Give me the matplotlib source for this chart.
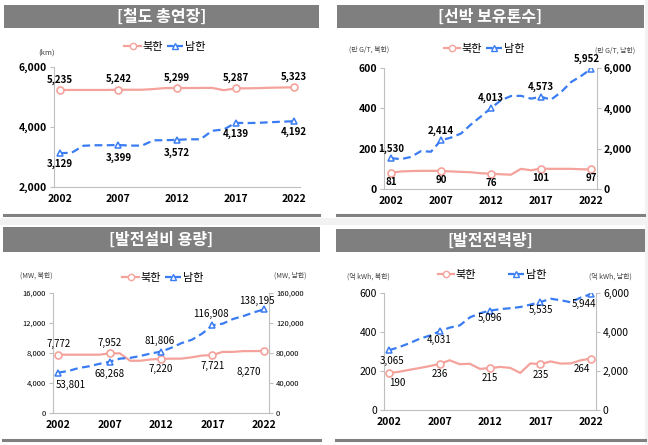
import matplotlib
matplotlib.use("Agg")
import matplotlib.pyplot as plt
from matplotlib.patches import Rectangle
from matplotlib.lines import Line2D

plt.rcParams['font.family'] = ['Noto Sans CJK KR', 'DejaVu Sans']

years = list(range(2002, 2023))
label_years = [2002, 2007, 2012, 2017, 2022]

# 철도 총연장 (km)
rail_nk = [5235, 5235, 5235, 5235, 5235, 5242, 5242, 5242, 5265, 5298, 5299,
           5299, 5302, 5304, 5226, 5287, 5289, 5296, 5310, 5316, 5323]
rail_sk = [3129, 3140, 3374, 3392, 3392, 3399, 3381, 3378, 3557, 3559, 3572,
           3590, 3590, 3874, 3918, 4139, 4131, 4140, 4160, 4178, 4192]

# 선박 보유톤수 (만 G/T)
ship_nk = [81, 87, 89, 90, 90, 90, 87, 85, 83, 78, 76,
           73, 71, 100, 93, 101, 100, 100, 100, 98, 97]
ship_sk = [1530, 1480, 1590, 1880, 1850, 2414, 2550, 2750, 3200, 3600, 4013,
           4400, 4610, 4620, 4480, 4573, 4430, 4800, 5300, 5600, 5952]

# 발전설비 용량 (MW)
cap_nk = [7772, 7772, 7770, 7770, 7770, 7952, 7955, 6964, 6968, 7143, 7220,
          7243, 7253, 7427, 7661, 7721, 8150, 8150, 8250, 8255, 8270]
cap_sk = [53801, 56053, 59961, 62258, 65514, 68268, 72491, 73470, 76078, 79342, 81806,
          86969, 93216, 97649, 105866, 116908, 119092, 125338, 129191, 134020, 138195]

# 발전전력량 (억 kWh)
gen_nk = [190, 196, 206, 215, 225, 236, 255, 235, 237, 211, 215,
          221, 216, 190, 239, 235, 249, 238, 239, 255, 264]
gen_sk = [3065, 3224, 3421, 3646, 3812, 4031, 4224, 4336, 4747, 4962, 5096,
          5171, 5220, 5281, 5404, 5535, 5706, 5630, 5525, 5769, 5944]

RED = '#F4A29B'
BLUE = '#3A7CF2'
GRAY = '#BFBFBF'
W, H = 648, 445

fig = plt.figure(figsize=(6.48, 4.45), dpi=100)
fig.patch.set_facecolor('white')


def px_axes(x0, y0, x1, y1):
    return fig.add_axes([x0 / W, 1 - y1 / H, (x1 - x0) / W, (y1 - y0) / H])


# light gray gap between rows
fig.patches.append(Rectangle((0, 1 - 225 / H), 1, 7 / H, transform=fig.transFigure,
                             facecolor='#F2F2F2', edgecolor='none', zorder=0))
fig.patches.append(Rectangle((1 - 3 / W, 0), 3 / W, 1, transform=fig.transFigure,
                             facecolor='#F2F2F2', edgecolor='none', zorder=0))


def banner(x0, x1, y0, y1, text, line_y):
    fig.patches.append(Rectangle((x0 / W, 1 - y1 / H), (x1 - x0) / W, (y1 - y0) / H,
                                 transform=fig.transFigure, facecolor='#7F7F7F',
                                 edgecolor='none', zorder=1))
    fig.text((x0 + x1) / 2 / W, 1 - (y0 + y1) / 2 / H, text, color='white',
             fontsize=11.5, fontweight='bold', ha='center', va='center')
    fig.lines.append(Line2D([x0 / W, x1 / W], [1 - line_y / H, 1 - line_y / H],
                            transform=fig.transFigure, color='#808080', lw=2.2))


banner(4, 319, 5, 28, '[철도 총연장]', 215)
banner(337, 644, 5, 28, '[선박 보유톤수]', 215)
banner(3, 320, 227, 252, '[발전설비 용량]', 440)
banner(336, 645, 229, 252, '[발전전력량]', 440)


def style(ax, tick_bold=True, tick_size=7.5):
    for s in ['top', 'right']:
        ax.spines[s].set_visible(False)
    ax.spines['left'].set_color(GRAY)
    ax.spines['bottom'].set_color(GRAY)
    ax.tick_params(axis='x', length=0, pad=5, labelsize=7.5)
    ax.tick_params(axis='y', length=3, color=GRAY, pad=2, labelsize=tick_size)
    ax.set_xticks(label_years)
    ax.patch.set_alpha(0)
    for lab in ax.get_xticklabels():
        lab.set_fontweight('bold')
    for lab in ax.get_yticklabels():
        lab.set_fontweight('bold' if tick_bold else 'normal')


def right_axis(ax):
    ax.spines['right'].set_visible(True)
    ax.spines['right'].set_color(GRAY)
    ax.spines['left'].set_visible(False)
    ax.spines['bottom'].set_visible(False)


def draw_red(ax, vals):
    ax.plot(years, vals, color=RED, lw=1.6, zorder=3)
    ax.plot(label_years, [vals[y - 2002] for y in label_years], 'o', ms=5,
            mfc='white', mec=RED, mew=1.2, zorder=4)


def draw_blue(ax, vals):
    ax.plot(years, vals, color=BLUE, lw=1.6, ls=(0, (3.5, 2)), zorder=3)
    ax.plot(label_years, [vals[y - 2002] for y in label_years], '^', ms=5,
            mfc='white', mec=BLUE, mew=1.1, zorder=4)


def labels(ax, vals, offsets, bold=True, size=7):
    for y, (dx, dy) in zip(label_years, offsets):
        v = vals[y - 2002]
        ax.annotate(f'{v:,}', (y, v), xytext=(dx, dy), textcoords='offset points',
                    ha='center', va='center', fontsize=size,
                    fontweight='bold' if bold else 'normal', zorder=5)


def legend(xc, yc, gap=0):
    h = [Line2D([], [], color=RED, lw=1.6, marker='o', ms=4.5, mfc='white', mec=RED),
         Line2D([], [], color=BLUE, lw=1.6, ls=(0, (3, 1.5)), marker='^', ms=4.5,
                mfc='white', mec=BLUE)]
    fig.legend(h, ['북한', '남한'], loc='center', bbox_to_anchor=(xc / W, 1 - yc / H),
               ncol=2, frameon=False, fontsize=8, handlelength=1.5,
               handletextpad=0.15, columnspacing=0.3 + gap, borderaxespad=0)


# panel 1: rail
ax1 = px_axes(54, 67, 300, 187)
draw_red(ax1, rail_nk)
draw_blue(ax1, rail_sk)
ax1.set_xlim(2001.5, 2022.5)
ax1.set_ylim(2000, 6000)
ax1.set_yticks([2000, 4000, 6000])
ax1.set_yticklabels(['2,000', '4,000', '6,000'])
style(ax1)
labels(ax1, rail_nk, [(0, 7.5)] * 5)
labels(ax1, rail_sk, [(0, -8), (0, -9.5), (0, -9.5), (0, -8), (0, -8)])
fig.text(38 / W, 1 - 53 / H, '(km)', fontsize=5.5, ha='left', va='center', color='#404040')
legend(165, 47)

# panel 2: ships
ax2 = px_axes(384, 68, 597, 189)
ax2r = ax2.twinx()
draw_red(ax2, ship_nk)
draw_blue(ax2r, ship_sk)
for a in (ax2, ax2r):
    a.set_xlim(2001.3, 2022.6)
ax2.set_ylim(0, 600)
ax2.set_yticks([0, 200, 400, 600])
ax2r.set_ylim(0, 6000)
ax2r.set_yticks([0, 2000, 4000, 6000])
ax2r.set_yticklabels(['0', '2,000', '4,000', '6,000'])
style(ax2)
style(ax2r)
right_axis(ax2r)
labels(ax2, ship_nk, [(0, -6.5)] * 5)
labels(ax2r, ship_sk, [(0, 7), (0, 7), (0, 7), (0, 7), (-3, 7)])
fig.text(349 / W, 1 - 50 / H, '(만 G/T, 북한)', fontsize=5, ha='left', va='center', color='#404040')
fig.text(635 / W, 1 - 51 / H, '(만 G/T, 남한)', fontsize=5, ha='right', va='center', color='#404040')
legend(484, 49)

# panel 3: capacity
ax3 = px_axes(53, 293, 269, 413)
ax3r = ax3.twinx()
draw_red(ax3, cap_nk)
draw_blue(ax3r, cap_sk)
for a in (ax3, ax3r):
    a.set_xlim(2001.5, 2022.5)
ax3.set_ylim(0, 16000)
ax3.set_yticks([0, 4000, 8000, 12000, 16000])
ax3.set_yticklabels(['0', '4,000', '8,000', '12,000', '16,000'])
ax3r.set_ylim(0, 160000)
ax3r.set_yticks([0, 40000, 80000, 120000, 160000])
ax3r.set_yticklabels(['0', '40,000', '80,000', '120,000', '160,000'])
style(ax3, tick_bold=False, tick_size=5.5)
style(ax3r, tick_bold=False, tick_size=5.5)
right_axis(ax3r)
labels(ax3, cap_nk, [(0, 7.5), (0, 7.5), (0, -7.5), (0, -7.5), (-11, -15)], bold=False)
labels(ax3r, cap_sk, [(9, -9), (0, -8.5), (-1, 8), (-1, 8), (-5, 6)], bold=False)
fig.text(20 / W, 1 - 276 / H, '(MW, 북한)', fontsize=5, ha='left', va='center', color='#404040')
fig.text(307 / W, 1 - 276 / H, '(MW, 남한)', fontsize=5, ha='right', va='center', color='#404040')
legend(163, 278)

# panel 4: generation
ax4 = px_axes(384, 293, 596, 410)
ax4r = ax4.twinx()
draw_red(ax4, gen_nk)
draw_blue(ax4r, gen_sk)
for a in (ax4, ax4r):
    a.set_xlim(2001.5, 2022.5)
ax4.set_ylim(0, 600)
ax4.set_yticks([0, 200, 400, 600])
ax4r.set_ylim(0, 6000)
ax4r.set_yticks([0, 2000, 4000, 6000])
ax4r.set_yticklabels(['0', '2,000', '4,000', '6,000'])
style(ax4)
style(ax4r)
for lab in ax4.get_yticklabels() + ax4r.get_yticklabels():
    lab.set_fontweight('normal')
right_axis(ax4r)
labels(ax4, gen_nk, [(6, -7.5), (0, -7.5), (0, -7.5), (0, -7.5), (-6.5, -7.5)], bold=False)
labels(ax4r, gen_sk, [(2, -7.5), (0, -6.5), (0, -5.5), (0, -6), (-5, -7)], bold=False)
fig.text(347 / W, 1 - 277 / H, '(억 kWh, 북한)', fontsize=5, ha='left', va='center', color='#404040')
fig.text(632 / W, 1 - 277 / H, '(억 kWh, 남한)', fontsize=5, ha='right', va='center', color='#404040')
legend(492, 275, gap=2.5)

fig.savefig('out.png', dpi=100, facecolor='white')
